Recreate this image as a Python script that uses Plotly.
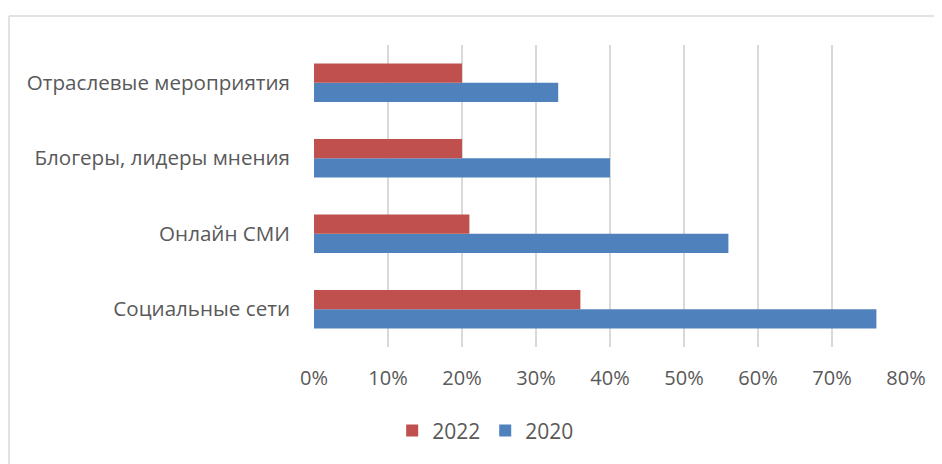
import plotly.graph_objects as go

categories = ["Социальные сети", "Онлайн СМИ", "Блогеры, лидеры мнения", "Отраслевые мероприятия"]
values_2022 = [0.36, 0.21, 0.20, 0.20]
values_2020 = [0.76, 0.56, 0.40, 0.33]
x_ticks = [0, 0.1, 0.2, 0.3, 0.4, 0.5, 0.6, 0.7, 0.8]

RED = "#C0504D"
BLUE = "#4F81BD"
TXT = "#595959"
GRID = "#D9D9D9"
FONT = "Open Sans"

fig = go.Figure()
fig.add_trace(go.Bar(y=categories, x=values_2020, name="2020", orientation="h",
                     marker=dict(color=BLUE, line=dict(width=0))))
fig.add_trace(go.Bar(y=categories, x=values_2022, name="2022", orientation="h",
                     marker=dict(color=RED, line=dict(width=0))))

# page body has an 8px default margin
W, H = 934, 456
ml, mr, mt, mb = 306, 36, 37, 106
pw, ph = W - ml - mr, H - mt - mb

fig.update_layout(
    width=W, height=H,
    margin=dict(l=ml, r=mr, t=mt, b=mb),
    paper_bgcolor="white", plot_bgcolor="white",
    barmode="group", bargap=0.49, bargroupgap=0,
    font=dict(family=FONT, size=20.6, color=TXT),
    showlegend=True,
    legend=dict(orientation="h", traceorder="reversed", x=0.29, xanchor="center",
                y=-0.21, yanchor="top", font=dict(size=21, color=TXT),
                itemwidth=30, itemsizing="constant"),
    xaxis=dict(range=[0, 0.8], tickvals=x_ticks, tickformat=".0%",
               showgrid=True, gridcolor=GRID, gridwidth=1.5, zeroline=False,
               showline=False, ticks="", ticklabelstandoff=17,
               tickfont=dict(size=20), fixedrange=True),
    yaxis=dict(showgrid=False, zeroline=False, showline=False, ticks="",
               ticklabelstandoff=23, fixedrange=True),
)

# chart-area frame: only its top and left edges fall inside the picture
x_left = (1 - ml) / pw
y_top = (mt + ph - 7) / ph
fig.add_shape(type="line", xref="paper", yref="paper",
              x0=x_left, x1=2.0, y0=y_top, y1=y_top,
              line=dict(color=GRID, width=1.5), layer="below")
fig.add_shape(type="line", xref="paper", yref="paper",
              x0=x_left, x1=x_left, y0=-2.0, y1=y_top,
              line=dict(color=GRID, width=1.5), layer="below")

fig.write_html("out.html")
